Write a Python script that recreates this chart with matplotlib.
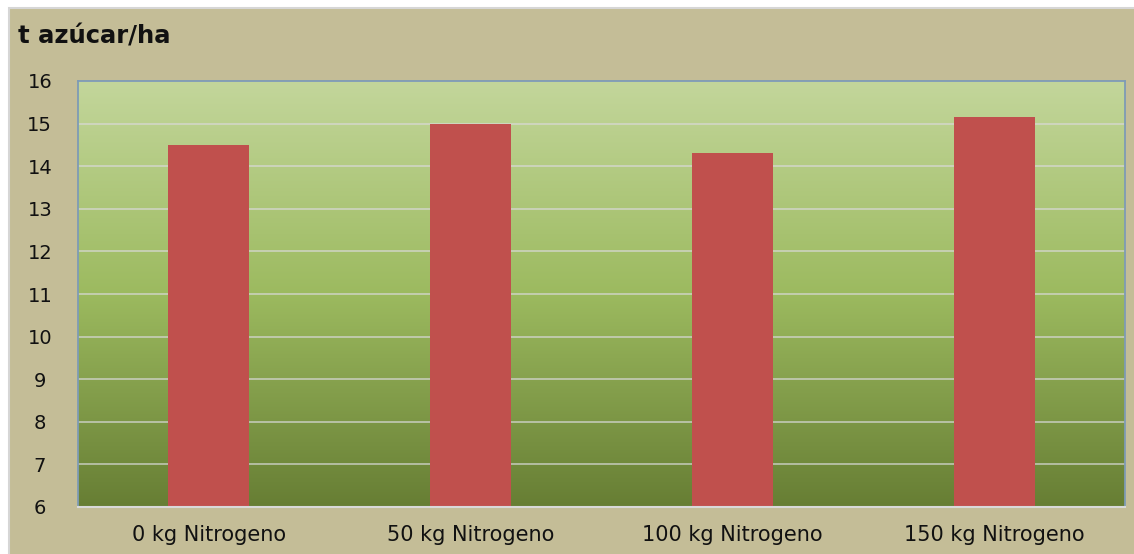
import numpy as np
import matplotlib
matplotlib.use("Agg")
import matplotlib.pyplot as plt
from matplotlib.colors import LinearSegmentedColormap
from matplotlib.patches import Rectangle

# data
categorias = ["0 kg Nitrogeno", "50 kg Nitrogeno", "100 kg Nitrogeno", "150 kg Nitrogeno"]
azucar = [14.5, 15.0, 14.3, 15.15]
y_ticks = [6, 7, 8, 9, 10, 11, 12, 13, 14, 15, 16]

plt.rcParams['font.family'] = ['DejaVu Sans']

fig = plt.figure(figsize=(11.34, 5.54), dpi=100)
fig.patch.set_facecolor("white")
# beige chart area with thin white/grey frame on top and left
fondo = Rectangle((9 / 1134, -0.05), 1.1, 1.05 - 8 / 554, transform=fig.transFigure,
                  facecolor="#C4BD97", edgecolor="#D6D6D6", linewidth=1.5, zorder=-10)
fig.patches.append(fondo)

ax = fig.add_axes([78 / 1134, (554 - 507) / 554, (1125 - 78) / 1134, (507 - 81) / 554])
ax.set_zorder(5)
ax.set_xlim(-0.5, 3.5)
ax.set_ylim(6, 16)

# gradient background of plot area
cmap = LinearSegmentedColormap.from_list("verde", ["#677E34", "#9CBA5F", "#C3D69B"])
grad = np.linspace(0, 1, 256).reshape(-1, 1)
ax.imshow(grad, cmap=cmap, origin="lower", aspect="auto", extent=(-0.5, 3.5, 6, 16), zorder=0)

ax.set_yticks(y_ticks)
ax.grid(axis="y", color="#D9D9D9", linewidth=1.3, alpha=0.7, zorder=1)
ax.set_axisbelow(True)

x = np.arange(len(categorias))
ax.bar(x, azucar, width=0.31, bottom=0, color="#C0504D", zorder=2)
ax.set_ylim(6, 16)

ax.set_xticks(x)
ax.set_xticklabels(categorias)
ax.tick_params(axis="x", length=0, labelsize=15, colors="#111111", pad=13)
ax.tick_params(axis="y", length=0, labelsize=14, colors="#111111", pad=27.5)
for lab in ax.get_yticklabels():
    lab.set_horizontalalignment("center")

for s in ["left", "top", "right"]:
    ax.spines[s].set_color("#7E9BB5")
    ax.spines[s].set_linewidth(1.3)
ax.spines["bottom"].set_color("#D9D9D9")
ax.spines["bottom"].set_linewidth(1.5)

fig.text(18 / 1134, 1 - 37 / 554, "t azúcar/ha", fontsize=17.5, fontweight="bold",
         ha="left", va="center", color="#111111")

fig.savefig("out.png", dpi=100, facecolor=fig.get_facecolor())
